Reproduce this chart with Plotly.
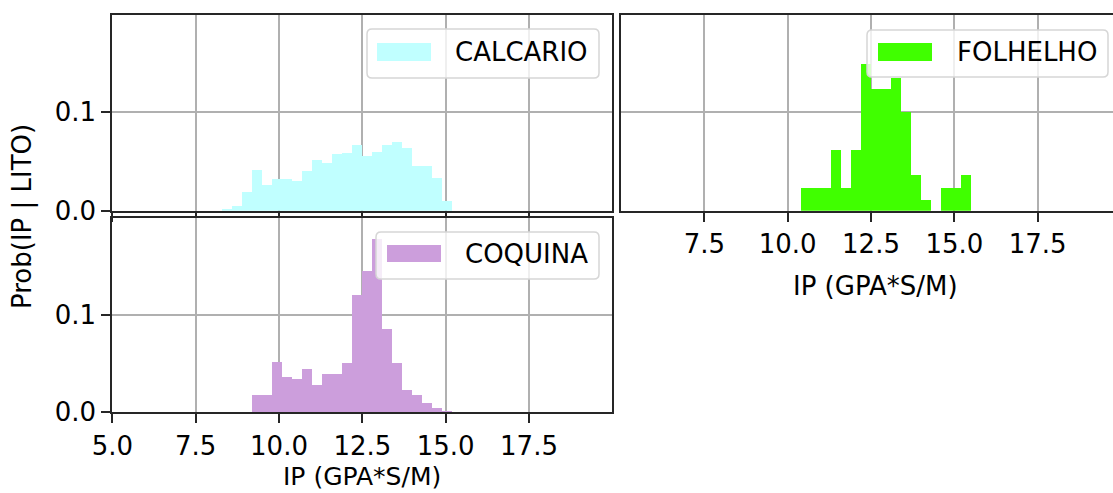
import plotly.graph_objects as go

# ---------------- data ----------------
BIN_LEFT = [8.3, 8.6, 8.9, 9.2, 9.5, 9.8, 10.1, 10.4, 10.7, 11.0, 11.3, 11.6,
            11.9, 12.2, 12.5, 12.8, 13.1, 13.4, 13.7, 14.0, 14.3, 14.6, 14.9, 15.2]
BIN_WIDTH = 0.3

CALCARIO = [0.001, 0.0044, 0.0186, 0.041, 0.0257, 0.0318, 0.0325, 0.0305, 0.040, 0.052,
            0.049, 0.0576, 0.059, 0.067, 0.056, 0.060, 0.067, 0.070, 0.064, 0.045,
            0.045, 0.033, 0.0095, 0.0]
FOLHELHO = [0.0, 0.0, 0.0, 0.0, 0.0, 0.0, 0.0, 0.0233, 0.0233, 0.0233, 0.0615, 0.023,
            0.0615, 0.149, 0.124, 0.124, 0.135, 0.100, 0.036, 0.0104, 0.0, 0.023,
            0.023, 0.036]
COQUINA = [0.0, 0.0, 0.0, 0.0174, 0.0174, 0.052, 0.0366, 0.034, 0.044, 0.028, 0.039,
           0.039, 0.050, 0.120, 0.145, 0.177, 0.085, 0.050, 0.0227, 0.018, 0.0098,
           0.0045, 0.0017, 0.0]

LITHOLOGIES = ["CALCARIO", "FOLHELHO", "COQUINA"]
X_TICKS = [5.0, 7.5, 10.0, 12.5, 15.0, 17.5]
X_TICKTEXT = ["5.0", "7.5", "10.0", "12.5", "15.0", "17.5"]
Y_TICKS = [0.0, 0.1]
Y_TICKTEXT = ["0.0", "0.1"]
X_LABEL = "IP (GPA*S/M)"
Y_LABEL = "Prob(IP | LITO)"

COLORS = {"CALCARIO": "#c0ffff", "FOLHELHO": "#40ff00", "COQUINA": "#cc9edc"}

# ---------------- layout helpers ----------------
W, H = 1113, 493


def px(p):
    return p / W


def py(p):
    return 1 - p / H


FONT = dict(family="DejaVu Sans", size=26, color="black")
LINE = "#262626"
GRID = "#b0b0b0"

fig = go.Figure()
series = {"CALCARIO": (CALCARIO, "x", "y"),
          "FOLHELHO": (FOLHELHO, "x2", "y2"),
          "COQUINA": (COQUINA, "x3", "y3")}
for name in LITHOLOGIES:
    vals, xa, ya = series[name]
    fig.add_trace(go.Bar(x=BIN_LEFT, y=vals, width=BIN_WIDTH, offset=0,
                         marker=dict(color=COLORS[name], line=dict(width=0)),
                         name=name, xaxis=xa, yaxis=ya, showlegend=False,
                         hovertemplate="%{x}: %{y}<extra>" + name + "</extra>"))

common_x = dict(tickvals=X_TICKS, ticktext=X_TICKTEXT, showgrid=True, gridcolor=GRID,
                gridwidth=2, zeroline=False, showline=True, linecolor=LINE, linewidth=2,
                ticks="outside", ticklen=9, tickwidth=2, tickcolor=LINE, tickfont=FONT,
                automargin=False)
common_y = dict(tickvals=Y_TICKS, ticktext=Y_TICKTEXT, showgrid=True, gridcolor=GRID,
                gridwidth=2, zeroline=False, showline=True, linecolor=LINE, linewidth=2,
                tickfont=FONT, range=[0, 0.199], automargin=False)

top_dom = [py(210.7), py(15)]
bot_dom = [py(412.3), py(218)]
left_dom = [px(112.3), px(611.7)]
right_dom = [px(621), 1.0]

fig.update_layout(
    width=W, height=H,
    margin=dict(l=0, r=0, t=0, b=0, autoexpand=False),
    paper_bgcolor="white", plot_bgcolor="white",
    font=FONT,
    bargap=0,
    xaxis=dict(common_x, domain=left_dom, range=[5, 19.98], anchor="y",
               showticklabels=False, mirror=True),
    yaxis=dict(common_y, domain=top_dom, anchor="x", mirror=True,
               ticks="outside", ticklen=9, tickwidth=2, tickcolor=LINE),
    xaxis2=dict(common_x, domain=right_dom, range=[5, 19.76], anchor="y2",
                tickvals=X_TICKS[1:], ticktext=X_TICKTEXT[1:], mirror=True),
    yaxis2=dict(common_y, domain=top_dom, anchor="x2", showticklabels=False,
                ticks="", mirror=False),
    xaxis3=dict(common_x, domain=left_dom, range=[5, 19.98], anchor="y3", mirror=True),
    yaxis3=dict(common_y, domain=bot_dom, anchor="x3", mirror=True,
                ticks="outside", ticklen=9, tickwidth=2, tickcolor=LINE),
)


# ---------------- legends (drawn as boxes) ----------------
def rounded_rect(x0, y0, x1, y1, r=5):
    X0, X1 = px(x0), px(x1)
    Y0, Y1 = py(y0), py(y1)  # Y0 top, Y1 bottom
    rx, ry = r / W, r / H
    return (f"M{X0 + rx},{Y0} L{X1 - rx},{Y0} Q{X1},{Y0} {X1},{Y0 - ry} "
            f"L{X1},{Y1 + ry} Q{X1},{Y1} {X1 - rx},{Y1} L{X0 + rx},{Y1} "
            f"Q{X0},{Y1} {X0},{Y1 + ry} L{X0},{Y0 - ry} Q{X0},{Y0} {X0 + rx},{Y0} Z")


legend_boxes = {
    "CALCARIO": dict(box=(367, 29, 599, 78), patch=(377, 43, 431, 61), text=(453, 52)),
    "FOLHELHO": dict(box=(867, 30, 1108, 77), patch=(878, 43, 932, 61), text=(955, 52)),
    "COQUINA": dict(box=(376, 232, 599, 279), patch=(387, 245, 441, 262), text=(463, 254)),
}
shapes = []
annotations = []
for name in LITHOLOGIES:
    lb = legend_boxes[name]
    shapes.append(dict(type="path", xref="paper", yref="paper", layer="above",
                       path=rounded_rect(*lb["box"]),
                       fillcolor="rgba(255,255,255,0.8)",
                       line=dict(color="#d6d6d6", width=1.5)))
    x0, y0, x1, y1 = lb["patch"]
    shapes.append(dict(type="rect", xref="paper", yref="paper", layer="above",
                       x0=px(x0), x1=px(x1), y0=py(y1), y1=py(y0),
                       fillcolor=COLORS[name], line=dict(width=0)))
    tx, ty = lb["text"]
    annotations.append(dict(text=name, xref="paper", yref="paper", x=px(tx), y=py(ty),
                            xanchor="left", yanchor="middle", showarrow=False, font=FONT))

annotations.append(dict(text=X_LABEL, xref="paper", yref="paper", x=px(362), y=py(476),
                        xanchor="center", yanchor="middle", showarrow=False,
                        font=dict(FONT, size=25)))
annotations.append(dict(text=X_LABEL, xref="paper", yref="paper", x=px(875), y=py(286),
                        xanchor="center", yanchor="middle", showarrow=False, font=FONT))
annotations.append(dict(text=Y_LABEL, xref="paper", yref="paper", x=px(23), y=py(217),
                        xanchor="center", yanchor="middle", textangle=-90,
                        showarrow=False, font=FONT))

fig.update_layout(shapes=shapes, annotations=annotations)

fig.write_html("out.html",
               config={"displayModeBar": False},
               post_script="document.body.style.margin='0px';"
                           "document.body.style.overflow='hidden';")
